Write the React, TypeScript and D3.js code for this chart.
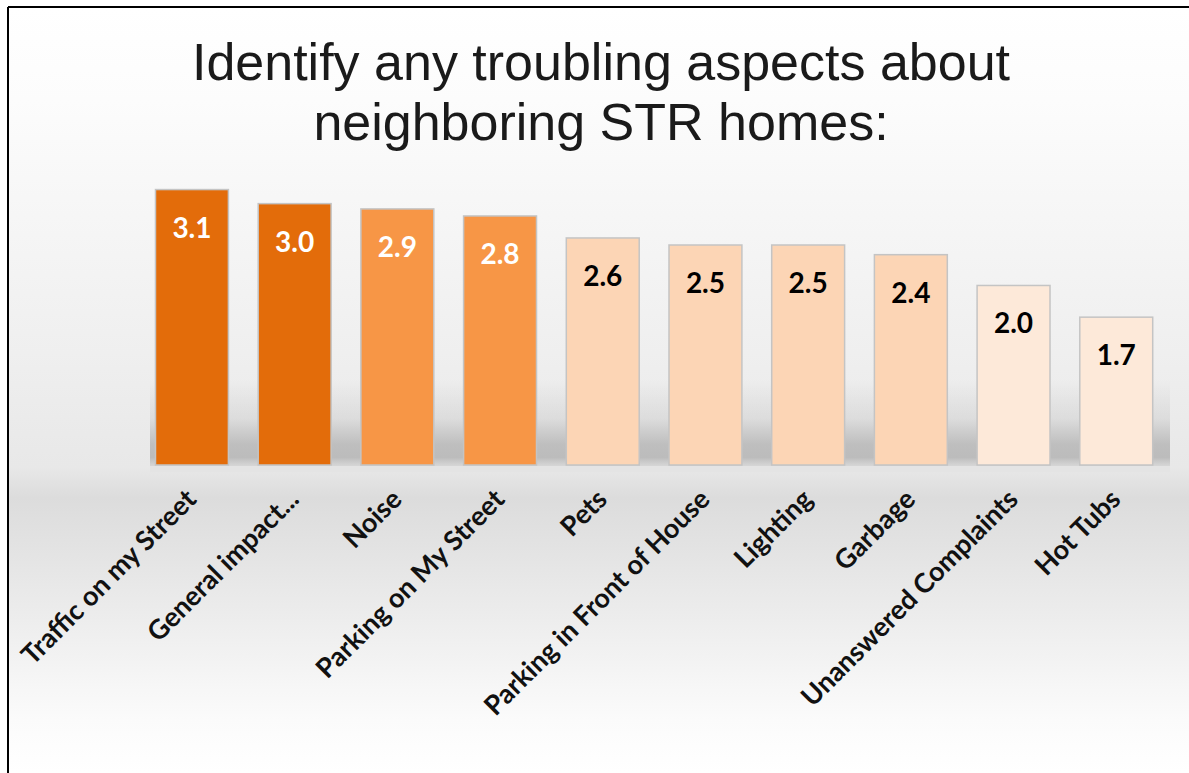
import React from 'react';
import * as d3 from 'd3';

const categories = [
  'Traffic on my Street',
  'General impact...',
  'Noise',
  'Parking on My Street',
  'Pets',
  'Parking in Front of House',
  'Lighting',
  'Garbage',
  'Unanswered Complaints',
  'Hot Tubs',
];
const values = [3.13, 2.97, 2.91, 2.83, 2.58, 2.5, 2.5, 2.39, 2.04, 1.68];
const barColors = ['#e36c0a', '#e36c0a', '#f79646', '#f79646', '#fcd5b5', '#fcd5b5', '#fcd5b5', '#fcd5b5', '#fde9d9', '#fde9d9'];
const labelColors = ['#ffffff', '#ffffff', '#ffffff', '#ffffff', '#000000', '#000000', '#000000', '#000000', '#000000', '#000000'];
const titleLines = ['Identify any troubling aspects about', 'neighboring STR homes:'];

const W = 1189;
const H = 773;
const baseY = 465;

const App: React.FC = () => {
  const x = d3.scaleBand<string>()
    .domain(categories)
    .range([140.6, 1167.6])
    .paddingInner(0.29)
    .paddingOuter(0.145);
  const y = d3.scaleLinear().domain([0, 3.5]).range([baseY, baseY - 308]);
  const fmt = d3.format('.1f');

  return (
    <svg width={W} height={H} style={{ position: 'absolute', left: 0, top: 0 }}>
      <defs>
        <linearGradient id="bg" x1="0" y1="0" x2="0" y2="1">
          <stop offset="0" stopColor="#ffffff" />
          <stop offset="0.12" stopColor="#fcfcfc" />
          <stop offset="0.45" stopColor="#efefef" />
          <stop offset="0.6" stopColor="#e8e8e8" />
          <stop offset="0.64" stopColor="#dcdcdc" />
          <stop offset="0.8" stopColor="#ededed" />
          <stop offset="0.93" stopColor="#fbfbfb" />
          <stop offset="1" stopColor="#ffffff" />
        </linearGradient>
        <linearGradient id="floor" x1="0" y1="0" x2="0" y2="1">
          <stop offset="0" stopColor="#b0b0b0" stopOpacity="0" />
          <stop offset="0.45" stopColor="#b0b0b0" stopOpacity="0.25" />
          <stop offset="0.75" stopColor="#b0b0b0" stopOpacity="0.75" />
          <stop offset="0.9" stopColor="#b4b4b4" stopOpacity="0.85" />
          <stop offset="1" stopColor="#cfcfcf" stopOpacity="0.7" />
        </linearGradient>
      </defs>
      <rect x={9} y={8} width={W - 9} height={H - 8} fill="url(#bg)" />
      <rect x={150} y={baseY - 85} width={1020} height={86} fill="url(#floor)" />
      <rect x={150} y={baseY + 1} width={1020} height={6} fill="#e4e4e4" />

      {titleLines.map((t, i) => (
        <text
          key={t}
          x={601}
          y={80 + i * 60}
          textAnchor="middle"
          fontFamily="'Liberation Sans', Arial, sans-serif"
          fontSize={52}
          fill="#1a1a1a"
        >
          {t}
        </text>
      ))}

      {categories.map((c, i) => (
        <g key={c}>
          <rect
            x={x(c)!}
            y={y(values[i])}
            width={x.bandwidth()}
            height={baseY - y(values[i])}
            fill={barColors[i]}
            stroke="#c4c4c4"
            strokeWidth={1.5}
          />
          <text
            x={x(c)! + x.bandwidth() / 2}
            y={y(values[i]) + 48}
            textAnchor="middle"
            fontFamily="Lato, 'Open Sans', sans-serif"
            fontWeight="bold"
            fontSize={28}
            fill={labelColors[i]}
          >
            {fmt(values[i])}
          </text>
          <text
            transform={`translate(${x(c)! + x.bandwidth() / 2 + 6},${baseY + 36}) rotate(-45)`}
            textAnchor="end"
            fontFamily="Lato, 'Open Sans', sans-serif"
            fontWeight="bold"
            fontSize={27}
            fill="#111111"
          >
            {c}
          </text>
        </g>
      ))}

      <line x1={8} y1={7} x2={W} y2={7} stroke="#000" strokeWidth={2} />
      <line x1={8} y1={7} x2={8} y2={H} stroke="#000" strokeWidth={2} />
    </svg>
  );
};

export default App;
